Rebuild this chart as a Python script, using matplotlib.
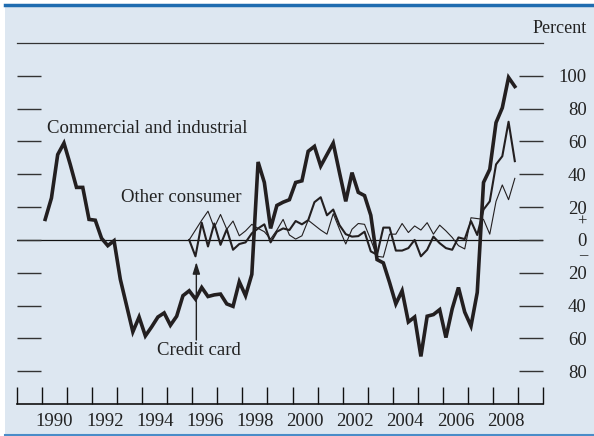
import matplotlib
matplotlib.use("Agg")
import matplotlib.pyplot as plt
from matplotlib.patches import Rectangle
from matplotlib.lines import Line2D
import numpy as np

# ---------------- data ----------------
ci_start = 1990.125          # first quarter (plotted mid-quarter)
ci_values = [12.5, 25.5, 52, 59, 46, 32, 32, 12.5, 12, 1, -3.5, -0.5,
             -24, -40, -56, -47, -58.5, -53, -47, -44.5, -52, -46.5, -34, -31,
             -36, -29, -34.5, -33.5, -33, -39, -40.5, -25.5, -34, -21, 47.5, 35,
             7, 21, 23, 24.5, 35, 36, 54, 57, 45, 52, 59, 41,
             23.5, 41, 29, 27, 15, -12, -14, -26, -39, -31, -50, -47,
             -71, -46.5, -45.5, -42.5, -59.5, -42, -29, -44, -52.5, -32, 35, 43,
             71.5, 80.5, 99, 93.5]

consumer_start = 1995.875
credit_card = [0, -10, 10.5, -4, 10, -3, 6.5, -6, -2.5, -1.5, 4, 7, 9.5,
               -1.5, 5, 7, 6, 11.5, 9.5, 12, 23, 26, 15, 18.5, 9,
               3.5, 2, 2.3, 5, -7, -9, 7.5, 7.5, -6.5, -6.5, -5, 0,
               -10, -6, 2, -2, -5, -6, 1.5, 0.5, 11.5, 3, 18.5, 23.5,
               46, 51, 72, 48]
other_consumer = [0, 6, 12, 17.5, 7.5, 15.5, 6.5, 11.5, 2.5, 5.5, 9.5, 7, 5,
                  0.5, 6, 12.5, 3, 0.5, 2.5, 12, 9, 6, 3.5, 16, 6.5,
                  -2.5, 6.5, 10, 9.5, 0, -10, -10.5, 3.5, 3.5, 10, 4.5, 8.5,
                  6, 10.5, 3.5, 9, 5.5, 1.5, -3.5, -5.5, 13.5, 13, 12.5, 3.5,
                  23.5, 33.5, 24.5, 37.5]

year_labels = ["1990", "1992", "1994", "1996", "1998", "2000", "2002", "2004", "2006", "2008"]
year_label_pos = [1990, 1992, 1994, 1996, 1998, 2000, 2002, 2004, 2006, 2008]
ytick_values = [100, 80, 60, 40, 20, 0, -20, -40, -60, -80]
ytick_labels = ["100", "80", "60", "40", "20", "0", "20", "40", "60", "80"]
sign_labels = ["+", "\u2013"]
sign_pos = [11, -9.5]

ci_x = ci_start + 0.25 * np.arange(len(ci_values))
cons_x = consumer_start + 0.25 * np.arange(len(credit_card))

# ---------------- figure ----------------
plt.rcParams['font.family'] = ['Liberation Serif', 'DejaVu Serif']
FS = 13.5
W, H = 594, 436
fig = plt.figure(figsize=(W / 100, H / 100), dpi=100)
fig.patch.set_facecolor('white')

bg = '#dde7f1'
fig.patches.append(Rectangle((5 / W, 1 / H), 1 - 5 / W, (435 - 6) / H,
                             transform=fig.transFigure, facecolor=bg,
                             edgecolor='none', zorder=-10))
fig.lines.append(Line2D([5 / W, 1], [1 - 5 / H, 1 - 5 / H], transform=fig.transFigure,
                        color='#1f6cb0', lw=2.5))
fig.lines.append(Line2D([5 / W, 1], [1 - 435 / H, 1 - 435 / H], transform=fig.transFigure,
                        color='#4a8cc8', lw=1.5))

ax = fig.add_axes([17 / W, (H - 404) / H, (543 - 17) / W, (404 - 43) / H])
ax.set_facecolor('none')
ax.set_xlim(1989, 2010)
ax.set_ylim(-100, 120)

for s in ['left', 'right']:
    ax.spines[s].set_visible(False)
ax.spines['top'].set_color('#333333')
ax.spines['top'].set_linewidth(0.9)
ax.spines['bottom'].set_color('#111111')
ax.spines['bottom'].set_linewidth(1.2)

# x ticks: year boundaries, labels mid-year
ax.set_xticks(np.arange(1989, 2011))
ax.set_xticklabels([])
ax.tick_params(axis='x', direction='in', length=12, width=1.0, color='#111111', top=False)
for yl, yp in zip(year_labels, year_label_pos):
    ax.text(yp + 0.5, -105.5, yl, ha='center', va='top', fontsize=FS, color='#222222')

# y ticks both sides, labels on right
ax.set_yticks(ytick_values)
ax.set_yticklabels(ytick_labels)
ax.tick_params(axis='y', direction='in', length=17.5, width=1.0, color='#333333',
               left=True, right=True, labelleft=False, labelright=True,
               pad=31.5, labelsize=FS, labelcolor='#222222')
for lab in ax.get_yticklabels():
    lab.set_horizontalalignment('right')

xr = 1 + 44 / (543 - 17)
for sl, sp in zip(sign_labels, sign_pos):
    ax.text(xr, sp, sl, transform=ax.get_yaxis_transform(), ha='right', va='center',
            fontsize=12, color='#222222')

ax.axhline(0, color='#111111', lw=0.9, zorder=1)

# series
ax.plot(cons_x, other_consumer, color='#231f20', lw=0.8, zorder=3)
ax.plot(cons_x, credit_card, color='#231f20', lw=1.5, zorder=4)
ax.plot(ci_x, ci_values, color='#231f20', lw=2.6, zorder=5, solid_joinstyle='miter')

# annotations
ax.text(1990.19, 68, 'Commercial and industrial', ha='left', va='center', fontsize=FS, color='#222222')
ax.text(1993.15, 26, 'Other consumer', ha='left', va='center', fontsize=FS, color='#222222')
ax.text(1996.27, -67.5, 'Credit card', ha='center', va='center', fontsize=FS, color='#222222')
ax.annotate('', xy=(1996.16, -13.5), xytext=(1996.16, -61),
            arrowprops=dict(arrowstyle='-|>,head_length=0.7,head_width=0.22',
                            color='#222222', lw=1.0, shrinkA=0, shrinkB=0))

fig.text(587 / W, 1 - 28 / H, 'Percent', ha='right', va='center', fontsize=FS - 0.5, color='#222222')

fig.savefig('out.png', dpi=100)
